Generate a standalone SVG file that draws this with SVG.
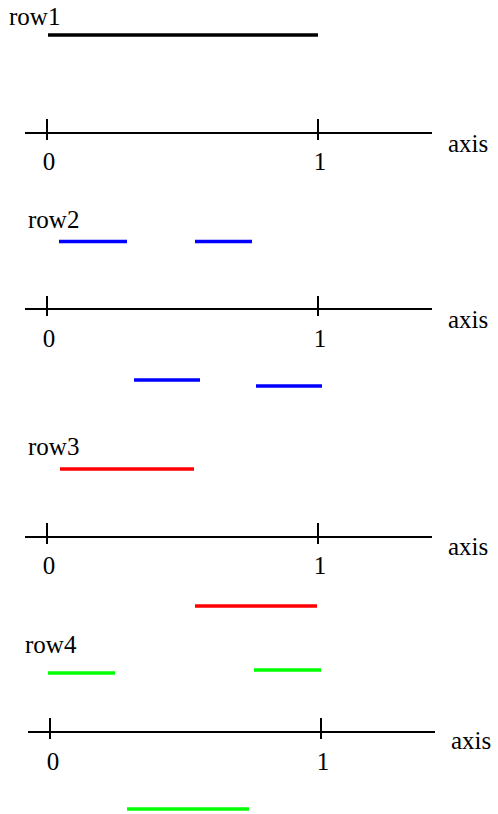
<svg xmlns="http://www.w3.org/2000/svg" width="498" height="814" viewBox="0 0 498 814">
<style>
.t{font-family:'Liberation Serif','DejaVu Serif',Tinos,serif;font-size:25px;fill:#000}
.ax{stroke:#000;stroke-width:2;fill:none}
.seg{stroke-width:3.5;fill:none}
.k{stroke:#000}.b{stroke:#0000ff}.r{stroke:#ff0000}.g{stroke:#00ff00}
.c{text-anchor:middle}
</style>
<rect width="498" height="814" fill="#fff"/>
<g id="row1">
<text class="t" x="9" y="25">row1</text>
<line class="seg k" x1="48" y1="35" x2="318" y2="35"/>
</g>
<g id="axis1">
<line class="ax" x1="25" y1="133" x2="432" y2="133"/>
<line class="ax" x1="47" y1="119" x2="47" y2="140"/>
<line class="ax" x1="318" y1="119" x2="318" y2="140"/>
<text class="t c" x="49" y="170">0</text>
<text class="t c" x="320" y="170">1</text>
<text class="t" x="448" y="152">axis</text>
</g>
<g id="row2">
<text class="t" x="28" y="228">row2</text>
<line class="seg b" x1="59" y1="241.5" x2="127" y2="241.5"/>
<line class="seg b" x1="195" y1="241.5" x2="252" y2="241.5"/>
<line class="seg b" x1="134" y1="380" x2="200" y2="380"/>
<line class="seg b" x1="256" y1="386" x2="322" y2="386"/>
</g>
<g id="axis2">
<line class="ax" x1="25" y1="309" x2="432" y2="309"/>
<line class="ax" x1="47" y1="296" x2="47" y2="316"/>
<line class="ax" x1="318" y1="296" x2="318" y2="316"/>
<text class="t c" x="49" y="347">0</text>
<text class="t c" x="320" y="347">1</text>
<text class="t" x="448" y="328">axis</text>
</g>
<g id="row3">
<text class="t" x="28" y="455">row3</text>
<line class="seg r" x1="60" y1="469" x2="194" y2="469"/>
<line class="seg r" x1="195" y1="606" x2="317" y2="606"/>
</g>
<g id="axis3">
<line class="ax" x1="25" y1="537" x2="432" y2="537"/>
<line class="ax" x1="47" y1="523" x2="47" y2="544"/>
<line class="ax" x1="318" y1="523" x2="318" y2="544"/>
<text class="t c" x="49" y="574">0</text>
<text class="t c" x="320" y="574">1</text>
<text class="t" x="448" y="555">axis</text>
</g>
<g id="row4">
<text class="t" x="25" y="653">row4</text>
<line class="seg g" x1="48" y1="673" x2="115" y2="673"/>
<line class="seg g" x1="254" y1="670" x2="321" y2="670"/>
<line class="seg g" x1="127" y1="809" x2="249" y2="809"/>
</g>
<g id="axis4">
<line class="ax" x1="28" y1="732" x2="435" y2="732"/>
<line class="ax" x1="50" y1="718" x2="50" y2="739"/>
<line class="ax" x1="321" y1="718" x2="321" y2="739"/>
<text class="t c" x="53" y="770">0</text>
<text class="t c" x="323" y="770">1</text>
<text class="t" x="451" y="749">axis</text>
</g>
</svg>
